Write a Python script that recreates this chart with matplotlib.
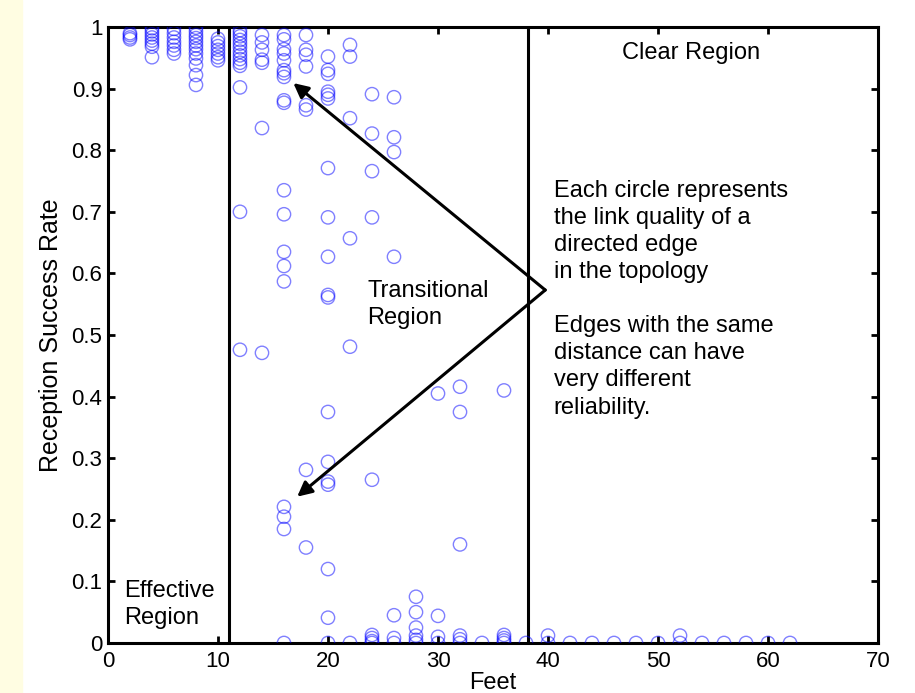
import numpy as np
import matplotlib
matplotlib.use("Agg")
import matplotlib.pyplot as plt
from matplotlib.patches import Rectangle

plt.rcParams['font.family'] = ['Liberation Sans', 'DejaVu Sans']

# Link measurements: distance between nodes (feet) and reception success rate
feet = ([2] * 4 + [4] * 8 + [6] * 7 + [8] * 12 + [10] * 7 + [12] * 14 + [14] * 7
        + [16] * 19 + [18] * 8 + [20] * 18 + [22] * 6 + [24] * 9 + [26] * 7
        + [28] * 6 + [30] * 4 + [32] * 6 + [34] + [36] * 5 + [38] + [40] * 2
        + [42, 44, 46, 48, 50] + [52] * 2 + [54, 56, 58, 60, 62])

success = [
    0.99, 0.987, 0.983, 0.98,
    0.998, 0.993, 0.988, 0.983, 0.978, 0.973, 0.968, 0.951,
    0.997, 0.99, 0.983, 0.976, 0.97, 0.963, 0.957,
    0.999, 0.993, 0.987, 0.982, 0.976, 0.97, 0.964, 0.957, 0.949, 0.938, 0.922, 0.906,
    0.981, 0.975, 0.969, 0.963, 0.957, 0.951, 0.946,
    0.995, 0.99, 0.985, 0.979, 0.973, 0.967, 0.96, 0.954, 0.948, 0.942, 0.937, 0.902, 0.70, 0.476,
    0.987, 0.975, 0.963, 0.947, 0.942, 0.836, 0.471,
    0.987, 0.98, 0.964, 0.957, 0.946, 0.93, 0.925, 0.919, 0.881, 0.877,
    0.735, 0.696, 0.635, 0.612, 0.587, 0.221, 0.205, 0.185, 0.0,
    0.987, 0.963, 0.955, 0.936, 0.873, 0.866, 0.281, 0.155,
    0.952, 0.93, 0.924, 0.895, 0.89, 0.884, 0.771, 0.691, 0.627,
    0.565, 0.561, 0.375, 0.294, 0.262, 0.257, 0.12, 0.041, 0.0,
    0.971, 0.952, 0.852, 0.657, 0.481, 0.0,
    0.891, 0.827, 0.766, 0.691, 0.265, 0.013, 0.008, 0.003, 0.0,
    0.886, 0.821, 0.797, 0.627, 0.045, 0.008, 0.0,
    0.075, 0.05, 0.025, 0.012, 0.005, 0.0,
    0.405, 0.044, 0.01, 0.0,
    0.416, 0.375, 0.16, 0.012, 0.006, 0.0,
    0.0,
    0.41, 0.013, 0.008, 0.004, 0.0,
    0.0,
    0.012, 0.0,
    0.0, 0.0, 0.0, 0.0, 0.0,
    0.012, 0.0,
    0.0, 0.0, 0.0, 0.0, 0.0,
]

# region boundaries (feet)
effective_edge = 11
clear_edge = 38.2

xticks = np.arange(0, 71, 10)
yticks = np.arange(0, 1.01, 0.1)
ytick_labels = ['0', '0.1', '0.2', '0.3', '0.4', '0.5', '0.6', '0.7', '0.8', '0.9', '1']

note = ("Each circle represents\nthe link quality of a\ndirected edge\nin the topology\n\n"
        "Edges with the same\ndistance can have\nvery different\nreliability.")

fig = plt.figure(figsize=(9.15, 6.93), dpi=100)
fig.patches.append(Rectangle((0, 0), 0.024, 1, transform=fig.transFigure,
                             color='#fffde2', zorder=0))
ax = fig.add_axes([0.118, 0.0722, 0.8416, 0.8888])

ax.scatter(feet, success, s=92, facecolors='none', edgecolors='blue',
           linewidths=1.0, alpha=0.5, zorder=3)

ax.axvline(effective_edge, color='black', lw=2.2, zorder=2)
ax.axvline(clear_edge, color='black', lw=2.2, zorder=2)

ax.set_xlim(0, 70)
ax.set_ylim(0, 1)
ax.set_xticks(xticks)
ax.set_yticks(yticks)
ax.set_yticklabels(ytick_labels)
ax.tick_params(direction='in', length=5, width=2, top=True, right=True,
               labelsize=16, pad=4)
ax.tick_params(axis='x', pad=6)
for sp in ax.spines.values():
    sp.set_linewidth(2.2)

ax.set_xlabel('Feet', fontsize=17, labelpad=0)
ax.set_ylabel('Reception Success Rate', fontsize=18, labelpad=6)

ax.text(46.75, 0.958, 'Clear Region', fontsize=17, va='center', ha='left')
ax.text(23.6, 0.59, 'Transitional\nRegion', fontsize=17, va='top', ha='left',
        linespacing=1.3)
ax.text(1.5, 0.102, 'Effective\nRegion', fontsize=17, va='top', ha='left',
        linespacing=1.3)
ax.text(40.5, 0.752, note, fontsize=17, va='top', ha='left', linespacing=1.3)

tail = (39.75, 0.573)
for head in [(16.85, 0.909), (17.2, 0.2375)]:
    ax.annotate('', xy=head, xytext=tail,
                arrowprops=dict(arrowstyle='-|>', color='black', lw=2.2,
                                mutation_scale=22, shrinkA=0, shrinkB=0))

fig.savefig('out.png', dpi=100)
